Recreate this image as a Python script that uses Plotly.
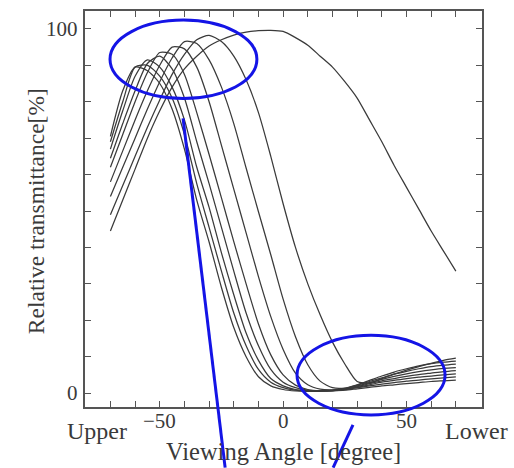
import plotly.graph_objects as go

# Viewing angle grid (degrees)
angles = list(range(-70, 75, 5))

# Relative transmittance [%] curves
curve_1 = [70.5, 83, 89.5, 88.5, 85, 78, 67, 53, 41.5, 29, 18, 10, 4.5, 2, 1, 0.6, 0.5, 0.5, 0.6, 0.8, 1.2, 1.6, 2, 2.3, 2.6, 2.9, 3.2, 3.4, 3.6]
curve_2 = [69, 80, 89.5, 90, 87, 81, 71, 57.5, 45.5, 33.5, 22, 13, 6.5, 3, 1.5, 0.8, 0.6, 0.6, 0.7, 1, 1.5, 2, 2.5, 2.9, 3.3, 3.6, 3.9, 4.2, 4.5]
curve_3 = [67, 77.5, 87, 91.5, 89.5, 84, 75, 62, 51, 38.5, 27, 16.5, 9, 4, 2, 1, 0.7, 0.6, 0.7, 1, 1.6, 2.3, 3, 3.5, 4, 4.4, 4.7, 5, 5.3]
curve_4 = [64.5, 74, 83, 90.5, 92.5, 89, 81, 69, 57.5, 45.5, 33.5, 22, 13, 6.5, 3, 1.5, 0.8, 0.6, 0.7, 1.1, 1.8, 2.6, 3.4, 4, 4.6, 5.1, 5.5, 5.9, 6.2]
curve_5 = [62, 71, 80, 88, 93.5, 93, 87.5, 77, 65.5, 53.6, 41.6, 30, 19, 10.5, 5, 2.2, 1, 0.7, 0.8, 1.2, 2, 2.9, 3.8, 4.6, 5.3, 5.9, 6.4, 6.8, 7]
curve_6 = [58, 66.5, 75, 83, 90, 95, 94.5, 89.5, 80, 68, 56, 44, 32, 21, 12, 5.5, 2.3, 1.1, 0.9, 1.3, 2.2, 3.2, 4.2, 5.2, 6, 6.7, 7.3, 7.7, 8]
curve_7 = [54, 62, 70, 78, 85.5, 92, 96.5, 96, 91.5, 84, 74, 61.8, 49.8, 38, 25.8, 15.5, 7.8, 3.3, 1.5, 1.4, 2.3, 3.5, 4.7, 5.8, 6.7, 7.5, 8.1, 8.5, 8.8]
curve_8 = [49, 57, 65, 73, 80.5, 87.5, 93, 97, 98.2, 96.5, 92.5, 86, 77, 65, 52, 40, 30, 21.5, 14, 8, 3.2, 2.8, 4, 5.2, 6.3, 7.3, 8.2, 9, 9.6]
curve_9 = [44.5, 53, 61.5, 70, 77.5, 84, 89, 92.5, 95.3, 97, 98.3, 99.1, 99.5, 99.6, 99.3, 97.6, 95.5, 92.5, 89.5, 85.5, 81, 75, 69, 62.5, 56.5, 50.5, 44.5, 39, 33.5]

curves = [curve_1, curve_2, curve_3, curve_4, curve_5, curve_6, curve_7, curve_8, curve_9]

# Ticks and their labels
x_tick_vals = list(range(-70, 80, 10))
x_label_vals = [-50, 0, 50]
x_label_text = ["\u221250", "0", "50"]
y_tick_vals = list(range(0, 110, 10))
y_label_vals = [0, 100]
y_label_text = ["0", "100"]

FONT = "Liberation Serif"
TXT = "#3a3a3a"
AX = "#555555"
BLUE = "#1414e6"

fig = go.Figure()
for ys in curves:
    fig.add_trace(go.Scatter(
        x=angles, y=ys, mode="lines",
        line=dict(color="#3a3a3a", width=1.25, shape="spline", smoothing=0.7),
        showlegend=False, hoverinfo="skip"))

annotations = []
for v, t in zip(x_label_vals, x_label_text):
    annotations.append(dict(text=t, x=v, y=-0.035, xref="x", yref="paper",
                            xanchor="center", yanchor="middle", showarrow=False,
                            font=dict(family=FONT, size=21, color=TXT)))
for v, t in zip(y_label_vals, y_label_text):
    annotations.append(dict(text=t, x=-0.012, y=v, xref="paper", yref="y",
                            xanchor="right", yanchor="middle", showarrow=False,
                            font=dict(family=FONT, size=21, color=TXT)))
annotations += [
    dict(text="Upper", x=0.030, y=-0.060, xref="paper", yref="paper",
         xanchor="center", yanchor="middle",
         showarrow=False, font=dict(family=FONT, size=24, color=TXT)),
    dict(text="Lower", x=0.987, y=-0.060, xref="paper", yref="paper",
         xanchor="center", yanchor="middle",
         showarrow=False, font=dict(family=FONT, size=24, color=TXT)),
    dict(text="Viewing Angle [degree]", x=0.499, y=-0.113, xref="paper", yref="paper",
         xanchor="center", yanchor="middle",
         showarrow=False, font=dict(family=FONT, size=24.5, color=TXT)),
    dict(text="Relative transmittance[%]", x=-0.123, y=0.495, xref="paper", yref="paper",
         xanchor="center", yanchor="middle",
         showarrow=False, textangle=-90, font=dict(family=FONT, size=23.5, color=TXT)),
]

fig.update_layout(
    width=514, height=468,
    margin=dict(l=85, r=32, t=9, b=61),
    paper_bgcolor="white", plot_bgcolor="white",
    showlegend=False,
    xaxis=dict(range=[-80.3, 80.6], tickvals=x_tick_vals, showticklabels=False,
               ticks="inside", ticklen=6, tickwidth=1, tickcolor=AX,
               showline=True, linecolor=AX, linewidth=1.5, mirror="ticks",
               showgrid=False, zeroline=False),
    yaxis=dict(range=[-3.8, 104.9], tickvals=y_tick_vals, showticklabels=False,
               ticks="inside", ticklen=6, tickwidth=1, tickcolor=AX,
               showline=True, linecolor=AX, linewidth=1.5, mirror="ticks",
               showgrid=False, zeroline=False),
    annotations=annotations,
    shapes=[
        dict(type="circle", xref="paper", yref="paper", x0=0.063, x1=0.433, y0=0.779, y1=0.977,
             line=dict(color=BLUE, width=3)),
        dict(type="circle", xref="paper", yref="paper", x0=0.534, x1=0.907, y0=-0.020, y1=0.181,
             line=dict(color=BLUE, width=3)),
        dict(type="line", xref="paper", yref="paper", x0=0.247, y0=0.729, x1=0.353, y1=-0.153,
             line=dict(color=BLUE, width=3)),
        dict(type="line", xref="paper", yref="paper", x0=0.675, y0=-0.045, x1=0.625, y1=-0.153,
             line=dict(color=BLUE, width=3)),
    ],
)

# Remove the page's default body margin so the figure fills the window exactly
fig.write_html("out.html",
               config={"displayModeBar": False},
               post_script="document.body.style.margin='0';document.body.style.overflow='hidden';")
